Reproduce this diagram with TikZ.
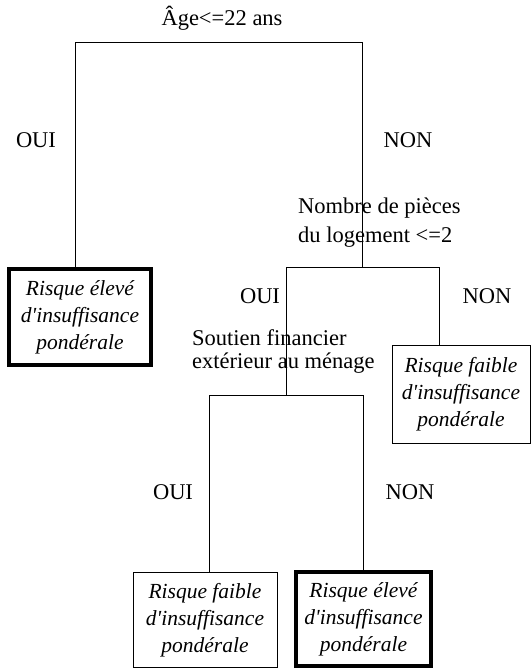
\documentclass[tikz,border=0pt]{standalone}
\usepackage{fontspec}
\setmainfont{Liberation Serif}
\begin{document}
\begin{tikzpicture}[x=1pt,y=-1pt,
  txt/.style={font=\fontsize{22.5}{27}\selectfont, inner sep=0pt},
  leaf/.style={draw, line width=1pt, font=\fontsize{21.5}{27}\selectfont\itshape, align=center, inner sep=0pt},
  leafthick/.style={leaf, line width=3.5pt},
  edge/.style={line width=1pt}]
\useasboundingbox (0,0) rectangle (532,670);
% decision labels
\node[txt] (q1) at (222,18) {Âge<=22 ans};
\node[txt, font=\fontsize{22.5}{28.5}\selectfont, align=left, anchor=west] (q2) at (298,222.5) {Nombre de pièces\\du logement <=2};
\node[txt, font=\fontsize{22.5}{23}\selectfont, align=left, anchor=west] (q3) at (192,352) {Soutien financier\\extérieur au ménage};
% leaves
\node[leafthick, minimum width=142pt, minimum height=96pt] (b1) at (80,317) {Risque élevé\\d\textquotesingle insuffisance\\pondérale};
\node[leaf, minimum width=138pt, minimum height=98pt] (b3) at (461,394) {Risque faible\\d\textquotesingle insuffisance\\pondérale};
\node[leaf, minimum width=144pt, minimum height=95pt] (b4) at (205,620) {Risque faible\\d\textquotesingle insuffisance\\pondérale};
\node[leafthick, minimum width=135pt, minimum height=94pt] (b5) at (363.5,619) {Risque élevé\\d\textquotesingle insuffisance\\pondérale};
% branch labels
\node[txt] (o1) at (36,140) {OUI};
\node[txt] (n1) at (408,140) {NON};
\node[txt] (o2) at (260,296) {OUI};
\node[txt] (n2) at (487,296) {NON};
\node[txt] (o3) at (173,492) {OUI};
\node[txt] (n3) at (410,492) {NON};
% junction coordinates
\coordinate (j1l) at (75,42);
\coordinate (j1r) at (362,42);
\coordinate (j2m) at (362,267);
\coordinate (j2l) at (286,267);
\coordinate (j2r) at (439,267);
\coordinate (j3m) at (286,395);
\coordinate (j3l) at (209,395);
\coordinate (j3r) at (363,395);
% connectors
\draw[edge] (b1.north -| j1l) -- (j1l) -- (j1r) -- (j2m);
\draw[edge] (j2l) -- (j2r) -- (b3.north -| j2r);
\draw[edge] (j2l) -- (j3m);
\draw[edge] (b4.north -| j3l) -- (j3l) -- (j3r) -- (b5.north -| j3r);
\end{tikzpicture}
\end{document}
